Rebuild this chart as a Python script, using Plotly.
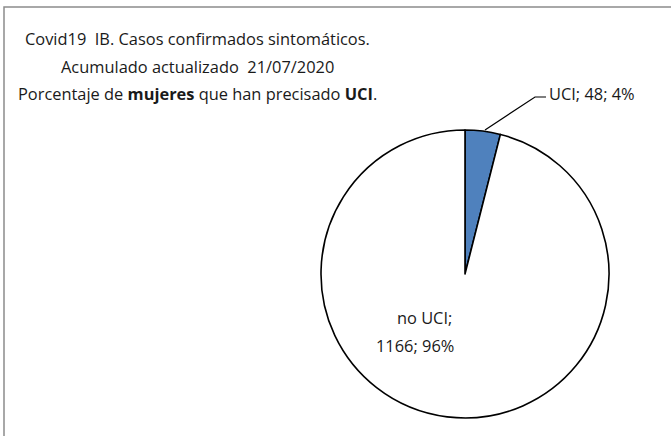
import plotly.graph_objects as go

labels = ["UCI", "no UCI"]
values = [48, 1166]
colors = ["#4F81BD", "#FFFFFF"]
title_lines = [
    "Covid19  IB. Casos confirmados sintomáticos.",
    "Acumulado actualizado  21/07/2020",
    "Porcentaje de <b>mujeres</b> que han precisado <b>UCI</b>.",
]

W, H = 671, 436
total = sum(values)
pct = [round(v * 100 / total) for v in values]

def px(x):
    return x / W

def py(y):
    return 1 - y / H

cx, cy, r = 465, 274, 144

fig = go.Figure(go.Pie(
    labels=labels, values=values, sort=False, direction="clockwise", rotation=0,
    marker=dict(colors=colors, line=dict(color="black", width=1.6)),
    textinfo="none", hoverinfo="label+value+percent", showlegend=False,
    domain=dict(x=[px(cx - r), px(cx + r)], y=[py(cy + r), py(cy - r)]),
))

font = dict(family="Open Sans, Noto Sans, sans-serif", size=16.4, color="#1a1a1a")
annots = []
for t, yy in zip(title_lines, [39, 66.5, 93.5]):
    annots.append(dict(text=t, x=px(197), y=py(yy), xref="paper", yref="paper",
                       showarrow=False, font=font, xanchor="center", yanchor="middle"))
annots.append(dict(text=f"{labels[0]}; {values[0]}; {pct[0]}%", x=px(547), y=py(93),
                   xref="paper", yref="paper", showarrow=False, font=font,
                   xanchor="left", yanchor="middle"))
annots.append(dict(text=f"{labels[1]};", x=px(424), y=py(317),
                   xref="paper", yref="paper", showarrow=False, font=font,
                   xanchor="center", yanchor="middle"))
annots.append(dict(text=f"{values[1]}; {pct[1]}%", x=px(415), y=py(345),
                   xref="paper", yref="paper", showarrow=False, font=font,
                   xanchor="center", yanchor="middle"))

shapes = [
    dict(type="rect", xref="paper", yref="paper", x0=px(4), y0=py(440), x1=px(680), y1=py(7),
         line=dict(color="#8c8c8c", width=1.5), fillcolor="rgba(0,0,0,0)", layer="below"),
    dict(type="path", xref="paper", yref="paper",
         path=f"M {px(485)} {py(130)} L {px(535)} {py(97)} L {px(546)} {py(97)}",
         line=dict(color="black", width=1.2)),
]

fig.update_layout(
    width=W, height=H, margin=dict(l=0, r=0, t=0, b=0),
    paper_bgcolor="white", plot_bgcolor="white",
    annotations=annots, shapes=shapes,
)
fig.write_html("out.html", config={"displayModeBar": False},
               post_script="document.body.style.margin='0';document.body.style.overflow='hidden';")
